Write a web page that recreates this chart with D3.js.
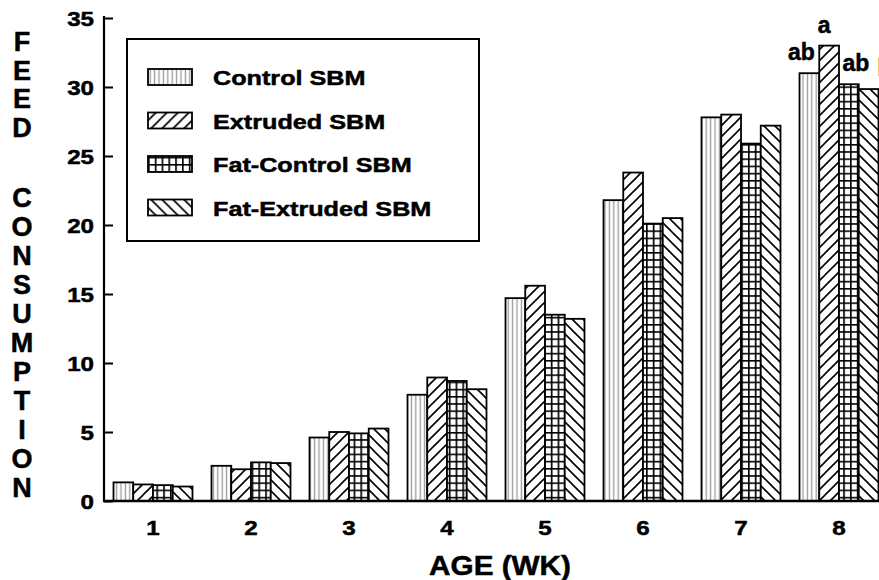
<!DOCTYPE html>
<html>
<head>
<meta charset="utf-8">
<script src="https://cdn.jsdelivr.net/npm/d3@7"></script>
<style>
  body { margin: 0; background: #fff; }
  svg text { font-family: "Liberation Sans", Arial, sans-serif; font-weight: bold; fill: #000;
             stroke: #000; stroke-width: 0.5px; }
</style>
</head>
<body>
<div id="chart"></div>
<script>
// data (feed consumption by week)
const weeks = ["1", "2", "3", "4", "5", "6", "7", "8"];
const seriesNames = ["Control SBM", "Extruded SBM", "Fat-Control SBM", "Fat-Extruded SBM"];
const controlSBM = [1.35, 2.55, 4.6, 7.7, 14.7, 21.8, 27.8, 31.0];
const extrudedSBM = [1.2, 2.3, 5.0, 8.95, 15.6, 23.8, 28.0, 33.0];
const fatControlSBM = [1.15, 2.8, 4.9, 8.7, 13.5, 20.1, 25.9, 30.2];
const fatExtrudedSBM = [1.05, 2.75, 5.25, 8.1, 13.2, 20.5, 27.2, 29.85];
const week8Letters = ["ab", "a", "ab", "b"];
const yTicks = [0, 5, 10, 15, 20, 25, 30, 35];
const yTitleTop = "FEED";
const yTitleBottom = "CONSUMPTION";
const xTitle = "AGE (WK)";

const allSeries = [controlSBM, extrudedSBM, fatControlSBM, fatExtrudedSBM];
const patternIds = ["pVert", "pDiagUp", "pGrid", "pDiagDown"];

const width = 879, height = 580;
const plotLeft = 104, plotBase = 501, plotTop = 18;

let svg = d3.select("#chart")
  .append("svg")
  .attr("width", width)
  .attr("height", height);

// patterns
let defs = svg.append("defs");

let pv = defs.append("pattern").attr("id", "pVert")
  .attr("patternUnits", "userSpaceOnUse").attr("width", 4.4).attr("height", 10);
pv.append("rect").attr("width", 4.4).attr("height", 10).attr("fill", "#fff");
pv.append("line").attr("x1", 2.2).attr("x2", 2.2).attr("y1", 0).attr("y2", 10)
  .attr("stroke", "#9a9a9a").attr("stroke-width", 1.3);

let pu = defs.append("pattern").attr("id", "pDiagUp")
  .attr("patternUnits", "userSpaceOnUse").attr("width", 11).attr("height", 11);
pu.append("rect").attr("width", 11).attr("height", 11).attr("fill", "#fff");
pu.append("path").attr("d", "M0,11L11,0M-2,2L2,-2M9,13L13,9")
  .attr("stroke", "#000").attr("stroke-width", 1.6);

let pg = defs.append("pattern").attr("id", "pGrid")
  .attr("patternUnits", "userSpaceOnUse").attr("width", 6.8).attr("height", 7.2);
pg.append("rect").attr("width", 6.8).attr("height", 7.2).attr("fill", "#fff");
pg.append("path").attr("d", "M0.8,0V7.2M0,0.8H6.8")
  .attr("stroke", "#000").attr("stroke-width", 1.7);

let pd = defs.append("pattern").attr("id", "pDiagDown")
  .attr("patternUnits", "userSpaceOnUse").attr("width", 11).attr("height", 11);
pd.append("rect").attr("width", 11).attr("height", 11).attr("fill", "#fff");
pd.append("path").attr("d", "M0,0L11,11M-2,9L2,13M9,-2L13,2")
  .attr("stroke", "#000").attr("stroke-width", 1.6);

// scales
let x = d3.scaleBand()
  .domain(weeks)
  .range([plotLeft, plotLeft + 8 * 98])
  .paddingInner(0.194)
  .paddingOuter(0.097);
let xSub = d3.scaleBand()
  .domain(d3.range(seriesNames.length))
  .range([0, x.bandwidth()]);
let y = d3.scaleLinear()
  .domain([0, 35])
  .range([plotBase, plotTop]);

// bars
allSeries.forEach((vals, s) => {
  svg.append("g").selectAll("rect")
    .data(vals)
    .enter().append("rect")
    .attr("x", (d, i) => x(weeks[i]) + xSub(s))
    .attr("y", d => y(d))
    .attr("width", xSub.bandwidth())
    .attr("height", d => y(0) - y(d))
    .attr("fill", "url(#" + patternIds[s] + ")")
    .attr("stroke", "#000")
    .attr("stroke-width", 1.8);
});

// significance letters at week 8 (last one runs off the edge, as in the source)
const labelNudge = [-8, -5, 7, 16];
svg.append("g").selectAll("text")
  .data(week8Letters)
  .enter().append("text")
  .attr("x", (d, s) => x("8") + xSub(s) + xSub.bandwidth() / 2 + labelNudge[s])
  .attr("y", (d, s) => y(allSeries[s][7]) - 13)
  .attr("text-anchor", "middle")
  .attr("font-size", 23)
  .text(d => d);

// y axis
let yAxis = svg.append("g")
  .attr("transform", "translate(" + plotLeft + ",0)")
  .call(d3.axisLeft(y).tickValues(yTicks).tickSizeInner(-9).tickSizeOuter(0).tickPadding(10));
yAxis.select(".domain").remove();
yAxis.attr("font-family", null).attr("font-size", null);
yAxis.selectAll(".tick line").attr("stroke", "#000").attr("stroke-width", 2);
yAxis.selectAll(".tick text")
  .attr("x", null).attr("dy", null)
  .attr("transform", "translate(-10,7.5) scale(1.15,1)")
  .attr("font-size", 21)
  .attr("text-anchor", "end");

svg.append("line")
  .attr("x1", plotLeft).attr("x2", plotLeft)
  .attr("y1", y(35) - 2).attr("y2", plotBase + 1)
  .attr("stroke", "#000").attr("stroke-width", 2.2);

// x axis
let xAxis = svg.append("g")
  .attr("transform", "translate(0," + plotBase + ")")
  .call(d3.axisBottom(x).tickSize(0).tickPadding(0));
xAxis.select(".domain").remove();
xAxis.attr("font-family", null).attr("font-size", null);
xAxis.selectAll(".tick text")
  .attr("y", null).attr("dy", null)
  .attr("transform", "translate(0,34) scale(1.15,1)")
  .attr("font-size", 21);

svg.append("line")
  .attr("x1", plotLeft - 1).attr("x2", width)
  .attr("y1", plotBase).attr("y2", plotBase)
  .attr("stroke", "#000").attr("stroke-width", 2.5);

// axis titles
svg.append("text")
  .attr("transform", "translate(" + ((plotLeft + 896) / 2) + ",575) scale(1.1,1)")
  .attr("text-anchor", "middle")
  .attr("font-size", 27)
  .text(xTitle);

const yLetters = yTitleTop.split("").map((c, i) => ({ c: c, y: 51 + i * 28.5 }))
  .concat(yTitleBottom.split("").map((c, i) => ({ c: c, y: 207 + i * 29 })));
svg.append("g").selectAll("text")
  .data(yLetters)
  .enter().append("text")
  .attr("x", 22)
  .attr("y", d => d.y)
  .attr("text-anchor", "middle")
  .attr("font-size", 27)
  .text(d => d.c);

// legend
let legend = svg.append("g");
legend.append("rect")
  .attr("x", 127).attr("y", 39)
  .attr("width", 352).attr("height", 202)
  .attr("fill", "#fff")
  .attr("stroke", "#000").attr("stroke-width", 2);

let items = legend.selectAll(".item")
  .data(seriesNames)
  .enter().append("g")
  .attr("class", "item")
  .attr("transform", (d, i) => "translate(148," + (77 + i * 43.5) + ")");
items.append("rect")
  .attr("x", 0).attr("y", -8)
  .attr("width", 44).attr("height", 16)
  .attr("fill", (d, i) => "url(#" + patternIds[i] + ")")
  .attr("stroke", "#000").attr("stroke-width", 1.8);
items.append("text")
  .attr("transform", "translate(65,8) scale(1.2,1)")
  .attr("font-size", 21)
  .text(d => d);
</script>
</body>
</html>
